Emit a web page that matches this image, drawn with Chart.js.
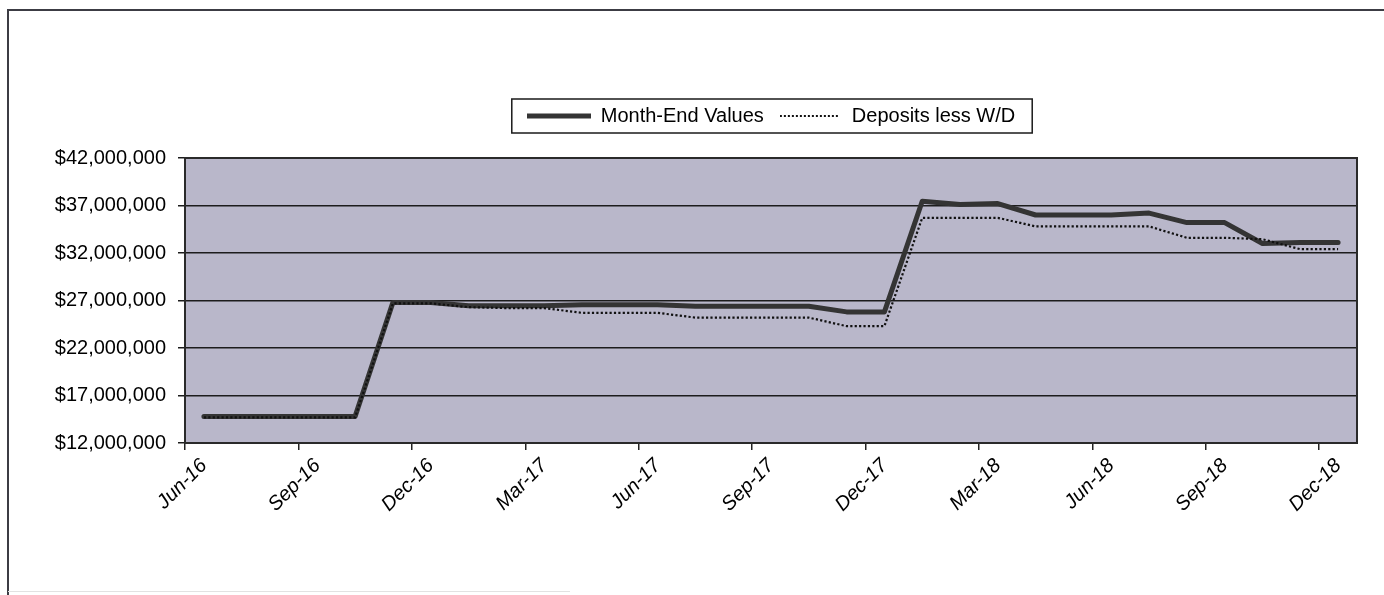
<!DOCTYPE html>
<html>
<head>
<meta charset="utf-8">
<script src="https://cdn.jsdelivr.net/npm/chart.js@4.4.1/dist/chart.umd.min.js"></script>
<style>
  html, body { margin: 0; padding: 0; background: #fff; }
  #wrap { width: 1384px; height: 595px; }
</style>
</head>
<body>
<div id="wrap"><canvas id="fund-chart" width="1384" height="595"></canvas></div>
<script>
// month labels, Jun-16 .. Dec-18
const months = ['Jun-16','Jul-16','Aug-16','Sep-16','Oct-16','Nov-16','Dec-16',
  'Jan-17','Feb-17','Mar-17','Apr-17','May-17','Jun-17','Jul-17','Aug-17','Sep-17','Oct-17','Nov-17','Dec-17',
  'Jan-18','Feb-18','Mar-18','Apr-18','May-18','Jun-18','Jul-18','Aug-18','Sep-18','Oct-18','Nov-18','Dec-18'];

// values (dollars)
const monthEndValues = [14800000,14800000,14800000,14800000,14800000,26800000,26800000,
  26450000,26450000,26450000,26550000,26550000,26550000,26400000,26400000,26400000,26400000,25800000,25800000,
  37450000,37100000,37200000,36000000,36000000,36000000,36200000,35200000,35200000,33000000,33100000,33100000];

const depositsLessWD = [14700000,14700000,14700000,14700000,14700000,26700000,26700000,
  26300000,26200000,26200000,25700000,25700000,25700000,25200000,25200000,25200000,25200000,24300000,24300000,
  35700000,35700000,35700000,34800000,34800000,34800000,34800000,33600000,33600000,33450000,32400000,32400000];

const yMin = 12000000;
const yMax = 42000000;
const yStep = 5000000;

const FONT = "'Liberation Sans', Arial, sans-serif";

// little legend samples (the legend ignores line dash for point styles)
function sample(width, lw, color, dash) {
  const c = document.createElement('canvas');
  c.width = width; c.height = 8;
  const g = c.getContext('2d');
  g.strokeStyle = color;
  g.lineWidth = lw;
  g.setLineDash(dash);
  g.beginPath();
  g.moveTo(0, 4); g.lineTo(width, 4);
  g.stroke();
  return c;
}
const solidSample = sample(64, 5, '#343434', []);
const dotSample = sample(60, 2, '#111', [2, 2]);

// page frame, plot background and border, legend box
const framePlugin = {
  id: 'frame',
  beforeLayout(chart) {
    const lg = chart.legend;
    if (lg && !lg._extraGap) {
      const fit = lg.fit.bind(lg);
      lg.fit = function () { fit(); this.height += 22; };
      lg._extraGap = true;
    }
  },
  beforeDraw(chart) {
    const {ctx, chartArea: a} = chart;
    ctx.save();
    ctx.fillStyle = '#fff';
    ctx.fillRect(0, 0, chart.width, chart.height);
    ctx.strokeStyle = '#3c3c44';
    ctx.lineWidth = 2;
    ctx.beginPath();
    ctx.moveTo(8, 595);
    ctx.lineTo(8, 10);
    ctx.lineTo(1384, 10);
    ctx.stroke();
    ctx.strokeStyle = '#e2e2e2';
    ctx.lineWidth = 1;
    ctx.beginPath();
    ctx.moveTo(8, 591.5);
    ctx.lineTo(570, 591.5);
    ctx.stroke();
    ctx.fillStyle = '#b9b7ca';
    ctx.fillRect(a.left, a.top, a.right - a.left, a.bottom - a.top);
    ctx.restore();
  },
  beforeDatasetsDraw(chart) {
    const {ctx, chartArea: a} = chart;
    ctx.save();
    ctx.strokeStyle = '#2a2a2a';
    ctx.lineWidth = 2;
    ctx.strokeRect(a.left, a.top, a.right - a.left, a.bottom - a.top);
    ctx.restore();
  },
  afterDraw(chart) {
    const hb = chart.legend && chart.legend.legendHitBoxes;
    if (!hb || !hb.length) return;
    const first = hb[0], last = hb[hb.length - 1];
    const mid = first.top + first.height / 2;
    const ctx = chart.ctx;
    ctx.save();
    ctx.strokeStyle = '#1a1a1a';
    ctx.lineWidth = 1.5;
    ctx.strokeRect(first.left - 15, mid - 17, last.left + last.width - first.left + 32, 34);
    ctx.restore();
  }
};

new Chart(document.getElementById('fund-chart'), {
  type: 'line',
  data: {
    labels: months,
    datasets: [{
      label: 'Month-End Values',
      data: monthEndValues,
      borderColor: '#343434',
      backgroundColor: '#343434',
      borderWidth: 5,
      pointRadius: 0,
      pointStyle: solidSample,
      borderJoinStyle: 'round',
      borderCapStyle: 'round',
      tension: 0,
      order: 1
    }, {
      label: 'Deposits less W/D',
      data: depositsLessWD,
      borderColor: '#111',
      backgroundColor: '#111',
      borderWidth: 2.2,
      borderDash: [2.2, 2.2],
      pointRadius: 0,
      pointStyle: dotSample,
      tension: 0,
      order: 0
    }]
  },
  options: {
    responsive: false,
    animation: false,
    layout: { padding: { top: 92, right: 27, bottom: 0, left: 0 } },
    plugins: {
      tooltip: { enabled: false },
      legend: {
        position: 'top',
        fullSize: false,
        labels: {
          usePointStyle: true,
          pointStyleWidth: 64,
          padding: 14,
          color: '#000',
          font: { family: FONT, size: 20 },
          sort: (a, b) => a.datasetIndex - b.datasetIndex
        }
      }
    },
    scales: {
      x: {
        offset: true,
        afterFit: (scale) => { scale.height = 152; },
        grid: {
          offset: true,
          drawOnChartArea: false,
          tickLength: 7,
          lineWidth: 1.5,
          color: (ctx) => ctx.index % 3 === 0 ? '#222' : 'rgba(0,0,0,0)'
        },
        border: { display: true, color: '#222', width: 2 },
        ticks: {
          autoSkip: false,
          maxRotation: 45,
          minRotation: 45,
          padding: 4,
          color: '#000',
          font: { family: FONT, size: 20, style: 'italic' },
          callback: function (value, index) {
            return index % 3 === 0 ? this.getLabelForValue(value) : '';
          }
        }
      },
      y: {
        min: yMin,
        max: yMax,
        afterFit: (scale) => { scale.width = 185; },
        grid: { color: '#1c1c1c', lineWidth: 1.5, tickLength: 7 },
        border: { display: true, color: '#222', width: 2 },
        ticks: {
          stepSize: yStep,
          padding: 12,
          color: '#000',
          font: { family: FONT, size: 20 },
          callback: (v) => '$' + v.toLocaleString('en-US')
        }
      }
    }
  },
  plugins: [framePlugin]
});
</script>
</body>
</html>
